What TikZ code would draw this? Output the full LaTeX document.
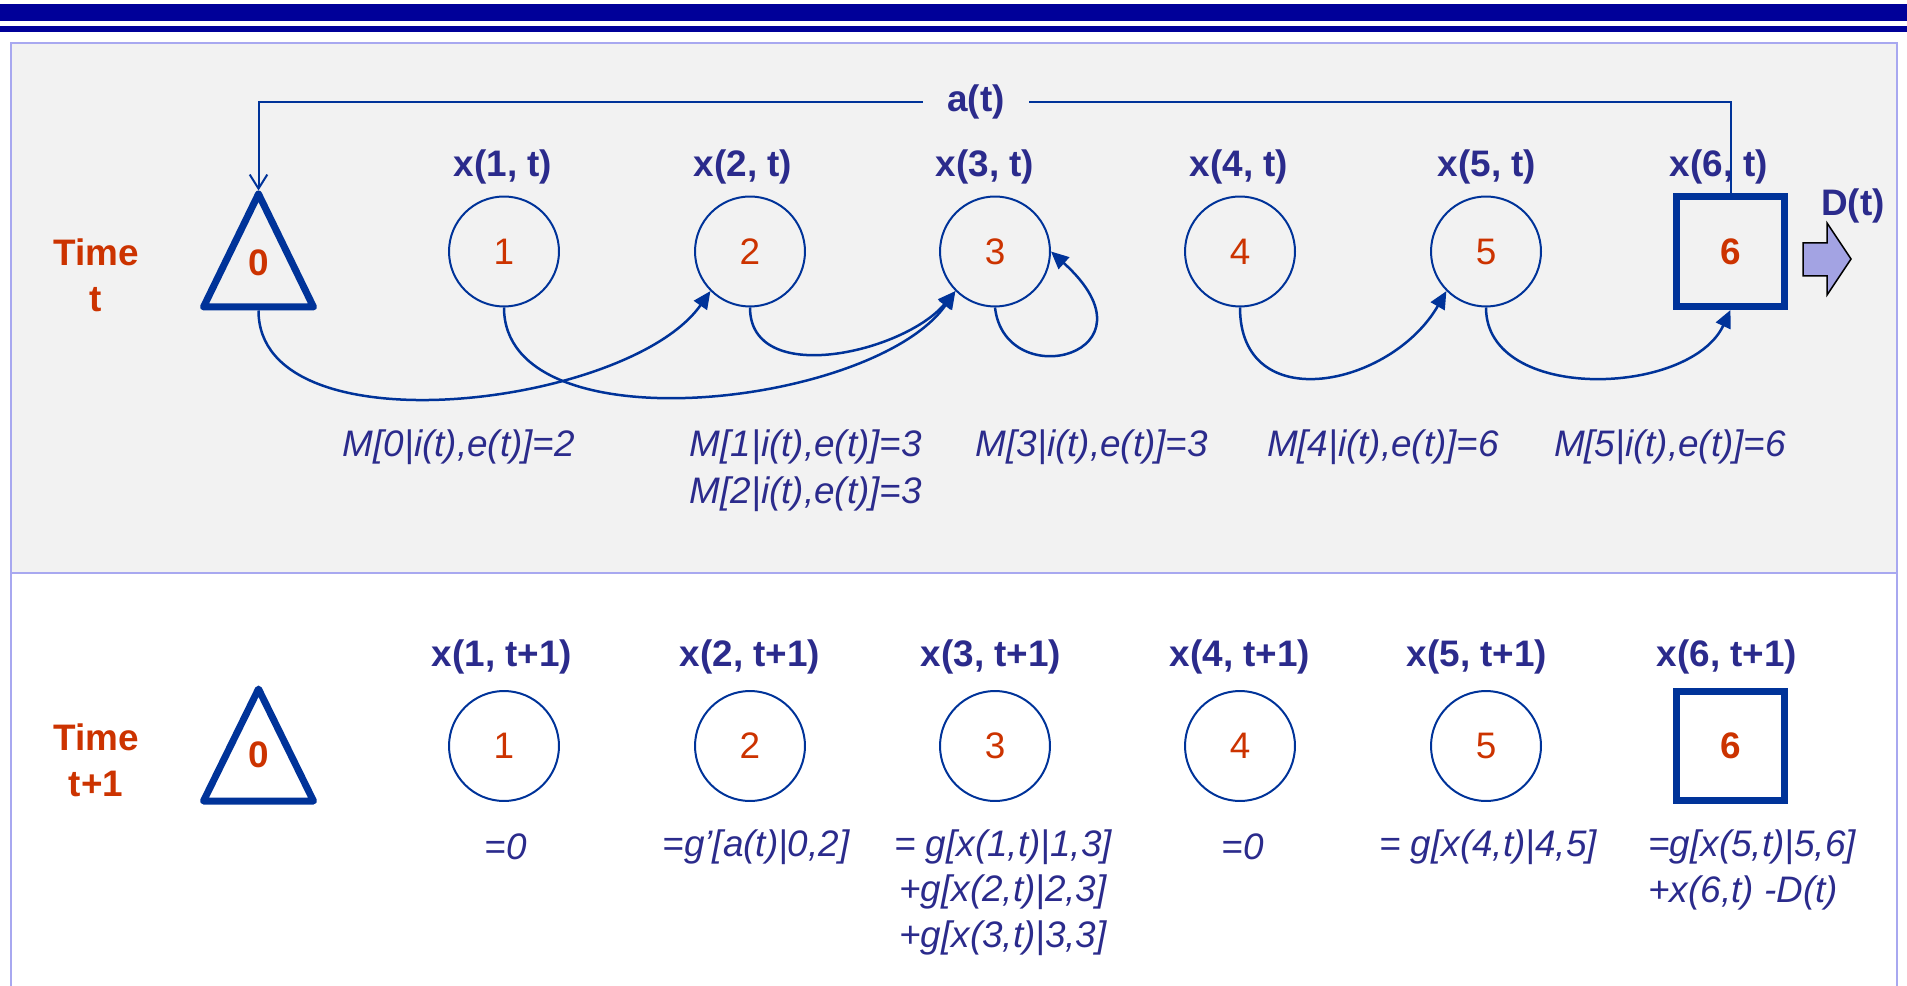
\documentclass[tikz,border=0pt]{standalone}
\usepackage{fontspec}
\setmainfont{Liberation Sans}
\usepackage{tikz}
\usepackage{xcolor}
\usetikzlibrary{arrows.meta, positioning}
\definecolor{barblue}{HTML}{000099}
\definecolor{shapeblue}{HTML}{003399}
\definecolor{navy}{HTML}{2B2B8C}
\definecolor{rust}{HTML}{CC3300}
\definecolor{panelgray}{HTML}{F2F2F2}
\definecolor{lavender}{HTML}{A8A8F0}
\definecolor{arrowfill}{HTML}{A3A3E3}
\newcommand{\figfont}{\fontsize{21}{26}\selectfont}
\tikzstyle{state} = [circle, draw=shapeblue, line width=0.04cm, minimum size=2.2cm, inner sep=0pt, text=rust, font=\figfont]
\tikzstyle{sink} = [rectangle, draw=shapeblue, line width=0.14cm, minimum width=2.16cm, minimum height=2.2cm, inner sep=0pt, text=rust, font=\figfont\bfseries]
\tikzstyle{source} = [text=rust, font=\figfont\bfseries, inner sep=0pt]
\tikzstyle{tri} = [draw=shapeblue, line width=0.14cm, line join=round]
\tikzstyle{lbl} = [text=navy, font=\figfont\bfseries]
\tikzstyle{timelbl} = [text=rust, font=\figfont\bfseries, align=center]
\tikzstyle{eq} = [text=navy, font=\figfont\itshape, align=center, inner sep=0pt]
\tikzstyle{flow} = [draw=shapeblue, line width=0.05cm, -{Triangle[length=10pt,width=9pt]}]
\tikzstyle{feedback} = [draw=shapeblue, line width=0.04cm]
\tikzstyle{frame} = [draw=lavender, line width=0.05cm]

\begin{document}
\begin{tikzpicture}[x=0.02cm, y=0.02cm]
        \clip (0,0) rectangle (1907,985);
        % Barras superiores
        \fill[barblue] (0,964) rectangle (1907,981);
        \fill[barblue] (0,953) rectangle (1907,959);

        % Panel
        \fill[panelgray] (11,412) rectangle (1897,942);
        \draw[frame] (11,-20) -- (11,942) -- (1897,942) -- (1897,-20);
        \draw[frame] (11,412) -- (1897,412);

        % Tiempo t
        \node[timelbl] (tt) at (96,709.5) {Time\\t};
        \draw[tri] (258.5,791) -- (313.5,678) -- (203.5,678) -- cycle;
        \coordinate (s0top) at (258.5,794.5);
        \coordinate (s0bot) at (258.5,674.5);
        \node[source] (s0) at (258.5,722) {0};
        \node[state] (c1) at (504,733.5) {1};
        \node[state] (c2) at (750,733.5) {2};
        \node[state] (c3) at (995,733.5) {3};
        \node[state] (c4) at (1240,733.5) {4};
        \node[state] (c5) at (1486,733.5) {5};
        \node[sink] (c6) at (1730.5,733.5) {6};

        \node[lbl] (lt1) at (503,818) {x(1, t)};
        \node[lbl] (lt2) at (743,818) {x(2, t)};
        \node[lbl] (lt3) at (985,818) {x(3, t)};
        \node[lbl] (lt4) at (1239,818) {x(4, t)};
        \node[lbl] (lt5) at (1487,818) {x(5, t)};
        \node[lbl] (lt6) at (1719,818) {x(6, t)};

        % Realimentacion a(t) y salida D(t)
        \node[lbl, minimum width=2.12cm, inner sep=0pt] (alab) at (976,883) {a(t)};
        \draw[feedback] (c6.north) |- (alab.east);
        \draw[feedback, -{Straight Barb[length=8pt,width=10pt]}] (alab.west) -| (s0top);
        \node[lbl] (dlab) at (1853,779) {D(t)};
        \draw[fill=arrowfill, draw=black, line width=0.03cm] (1803,709) -- (1827,709) -- (1827,690) -- (1851,726)
            -- (1827,762) -- (1827,742) -- (1803,742) -- cycle;

        % Flujos
        \draw[flow] (s0bot) to[out=-90, in=-125, looseness=0.8] (c2.225);
        \draw[flow] (c1.south) to[out=-90, in=-125, looseness=0.8] (c3.225);
        \draw[flow] (c2.south) to[out=-90, in=-130] (c3.225);
        \draw[flow] (c3.south) .. controls +(10,-88) and +(114,-103) .. (c3.east);
        \draw[flow] (c4.south) to[out=-90, in=-120, looseness=1.37] (c5.225);
        \draw[flow] (c5.south) to[out=-90, in=-115] (c6.south);

        \node[eq] (m0) at (459,538) {M[0|i(t),e(t)]=2};
        \node[eq] (m12) at (806,514) {M[1|i(t),e(t)]=3\\[1pt]M[2|i(t),e(t)]=3};
        \node[eq] (m3) at (1092,538) {M[3|i(t),e(t)]=3};
        \node[eq] (m4) at (1383,538) {M[4|i(t),e(t)]=6};
        \node[eq] (m5) at (1670,538) {M[5|i(t),e(t)]=6};

        % Tiempo t+1
        \node[timelbl] (tn) at (96,224.5) {Time\\t+1};
        \draw[tri] (258.5,296) -- (313.5,184) -- (203.5,184) -- cycle;
        \node[source] (n0) at (258.5,230) {0};
        \node[state] (d1) at (504,239) {1};
        \node[state] (d2) at (750,239) {2};
        \node[state] (d3) at (995,239) {3};
        \node[state] (d4) at (1240,239) {4};
        \node[state] (d5) at (1486,239) {5};
        \node[sink] (d6) at (1730.5,239) {6};

        \node[lbl] (lb1) at (502,328) {x(1, t+1)};
        \node[lbl] (lb2) at (750,328) {x(2, t+1)};
        \node[lbl] (lb3) at (991,328) {x(3, t+1)};
        \node[lbl] (lb4) at (1240,328) {x(4, t+1)};
        \node[lbl] (lb5) at (1477,328) {x(5, t+1)};
        \node[lbl] (lb6) at (1727,328) {x(6, t+1)};

        \node[eq] (q1) at (506,138) {=0};
        \node[eq] (q2) at (756,138) {=g’[a(t)|0,2]};
        \node[eq] (q3) at (1003,92.5) {= g[x(1,t)|1,3]\\+g[x(2,t)|2,3]\\+g[x(3,t)|3,3]};
        \node[eq] (q4) at (1243,138) {=0};
        \node[eq] (q5) at (1488,138) {= g[x(4,t)|4,5]};
        \node[eq, anchor=west, align=left] (q6) at (1648,115) {=g[x(5,t)|5,6]\\+x(6,t) -D(t)};
\end{tikzpicture}
\end{document}
